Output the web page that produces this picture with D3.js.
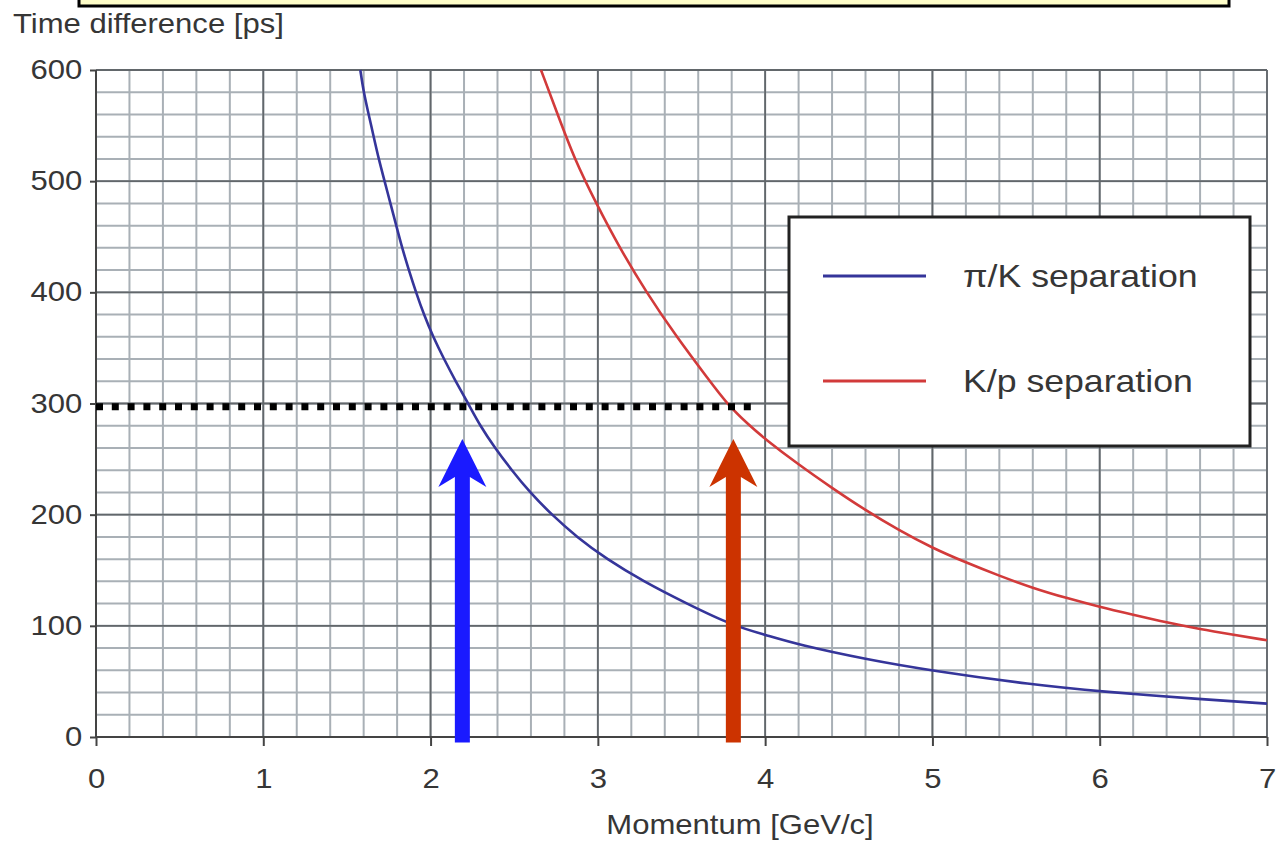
<!DOCTYPE html>
<html>
<head>
<meta charset="utf-8">
<script src="https://cdn.jsdelivr.net/npm/d3@7"></script>
<style>
  body { margin: 0; background: #fff; }
  text { font-family: "Liberation Sans", Arial, Helvetica, sans-serif; fill: #363636; }
</style>
</head>
<body>
<div id="chart"></div>
<script>
// values
var piKMomentum = [1.58, 1.60, 1.63, 1.66, 1.69, 1.725, 1.76, 1.795, 1.83, 1.87, 1.913, 1.96, 2.015, 2.08, 2.15, 2.225,
                   2.296, 2.385, 2.485, 2.594, 2.724, 2.873, 3.053, 3.272, 3.531, 3.809, 4.0, 4.2, 4.6, 5.0, 5.6, 6.0, 6.6, 7.0];
var piKTime     = [600, 580, 560, 540, 520, 500, 480, 460, 440, 420, 400, 380, 360, 340, 320, 300,
                   280, 260, 240, 220, 200, 180, 160, 140, 120, 100, 92, 83, 70, 59.5, 47, 41, 34, 30];
var kpMomentum  = [2.66, 2.76, 2.86, 2.99, 3.13, 3.29, 3.47, 3.67, 3.77, 3.90, 4.0, 4.2, 4.4, 4.6, 4.8, 5.0,
                   5.2, 5.4, 5.6, 5.8, 6.0, 6.2, 6.4, 6.6, 6.8, 7.0];
var kpTime      = [600, 560, 520, 480, 440, 400, 360, 320, 300, 281, 268, 245, 224, 204, 186, 170,
                   157, 145, 134, 125, 117, 110, 103, 97, 92, 87];
var seriesNames = ["\u03c0/K separation", "K/p separation"];
var seriesColors = ["#35359a", "#d23a3a"];

var xTicks = [0, 1, 2, 3, 4, 5, 6, 7];
var yTicks = [0, 100, 200, 300, 400, 500, 600];
var xMinorStep = 0.2, yMinorStep = 20;

var thresholdTime = 297;          // dotted line level
var thresholdEnd = 3.96;          // dotted line right end (GeV/c)
var arrowMomentum = [2.19, 3.81];
var arrowColors = ["#1a1aff", "#cc3300"];
var arrowTip = 268, arrowBarb = 225, arrowFoot = -5;

var W = 1278, H = 844;
var pLeft = 96, pRight = 1267, pTop = 70, pBottom = 737;
var SX = "scale(1.15,1)";

var svg = d3.select("#chart").append("svg").attr("width", W).attr("height", H);

var x = d3.scaleLinear().domain([0, 7]).range([pLeft, pRight]);
var y = d3.scaleLinear().domain([0, 600]).range([pBottom, pTop]);

// yellow strip at top
svg.append("rect").attr("x", 79).attr("y", -6).attr("width", 1150).attr("height", 12)
  .attr("fill", "#fefdc8").attr("stroke", "#000").attr("stroke-width", 3);

// grid
var grid = svg.append("g");
var xMinor = d3.range(0, 7 + 1e-9, xMinorStep);
var yMinor = d3.range(0, 600 + 1e-9, yMinorStep);
grid.selectAll(".vminor").data(xMinor).enter().append("line")
  .attr("x1", function(d){ return x(d); }).attr("x2", function(d){ return x(d); })
  .attr("y1", pTop).attr("y2", pBottom)
  .attr("stroke", "#a9b0b6").attr("stroke-width", 2);
grid.selectAll(".hminor").data(yMinor).enter().append("line")
  .attr("y1", function(d){ return y(d); }).attr("y2", function(d){ return y(d); })
  .attr("x1", pLeft).attr("x2", pRight)
  .attr("stroke", "#a9b0b6").attr("stroke-width", 2);
grid.selectAll(".vmajor").data(xTicks).enter().append("line")
  .attr("x1", function(d){ return x(d); }).attr("x2", function(d){ return x(d); })
  .attr("y1", pTop).attr("y2", pBottom)
  .attr("stroke", "#62676b").attr("stroke-width", 1.8);
grid.selectAll(".hmajor").data(yTicks).enter().append("line")
  .attr("y1", function(d){ return y(d); }).attr("y2", function(d){ return y(d); })
  .attr("x1", pLeft).attr("x2", pRight)
  .attr("stroke", "#62676b").attr("stroke-width", 1.8);

// axes
var xAxis = svg.append("g").attr("transform", "translate(0," + pBottom + ")")
  .call(d3.axisBottom(x).tickValues(xTicks).tickFormat(d3.format("d")).tickSize(9).tickPadding(23));
var yAxis = svg.append("g").attr("transform", "translate(" + pLeft + ",0)")
  .call(d3.axisLeft(y).tickValues(yTicks).tickFormat(d3.format("d")).tickSize(6).tickPadding(6));
[xAxis, yAxis].forEach(function(a){
  a.attr("font-family", null);
  a.select(".domain").attr("stroke", "#444").attr("stroke-width", 2);
  a.selectAll(".tick line").attr("stroke", "#444").attr("stroke-width", 2);
  a.selectAll(".tick text").attr("font-size", 27).attr("fill", "#363636")
    .attr("transform", SX);
});
yAxis.select(".domain").attr("d", "M0," + pTop + "V" + pBottom);
xAxis.select(".domain").attr("d", "M" + pLeft + ",0H" + pRight);

// curves
var line = d3.line().curve(d3.curveBasis)
  .x(function(d){ return x(d[0]); }).y(function(d){ return y(d[1]); });
var series = [d3.zip(piKMomentum, piKTime), d3.zip(kpMomentum, kpTime)];
svg.selectAll(".curve").data(series).enter().append("path")
  .attr("d", line).attr("fill", "none")
  .attr("stroke", function(d, i){ return seriesColors[i]; })
  .attr("stroke-width", 2.6);

// dotted threshold line
svg.append("line")
  .attr("x1", x(0)).attr("x2", x(thresholdEnd))
  .attr("y1", y(thresholdTime)).attr("y2", y(thresholdTime))
  .attr("stroke", "#000").attr("stroke-width", 7).attr("stroke-dasharray", "7,8.8");

// arrows
var headHalf = 24, shaftHalf = 7.5, notch = 10;
svg.selectAll(".arrow").data(arrowMomentum).enter().append("path")
  .attr("d", function(m){
    var cx = x(m), tipY = y(arrowTip), barbY = y(arrowBarb), footY = y(arrowFoot);
    return "M" + cx + "," + tipY +
      "L" + (cx + headHalf) + "," + barbY +
      "L" + (cx + shaftHalf) + "," + (barbY - notch) +
      "L" + (cx + shaftHalf) + "," + footY +
      "L" + (cx - shaftHalf) + "," + footY +
      "L" + (cx - shaftHalf) + "," + (barbY - notch) +
      "L" + (cx - headHalf) + "," + barbY + "Z";
  })
  .attr("fill", function(d, i){ return arrowColors[i]; });

// legend
var lg = svg.append("g");
lg.append("rect").attr("x", 789).attr("y", 217).attr("width", 461).attr("height", 229)
  .attr("fill", "#fff").attr("stroke", "#222").attr("stroke-width", 3);
var legY = [276, 381];
seriesNames.forEach(function(name, i){
  lg.append("line").attr("x1", 823).attr("x2", 926).attr("y1", legY[i]).attr("y2", legY[i])
    .attr("stroke", seriesColors[i]).attr("stroke-width", 3);
  lg.append("text").attr("transform", "translate(963," + (legY[i] + 11) + ") " + SX)
    .attr("font-size", 31).text(name);
});

// axis titles
svg.append("text").attr("transform", "translate(13,33) " + SX)
  .attr("font-size", 27).text("Time difference [ps]");
svg.append("text").attr("transform", "translate(740,834) " + SX)
  .attr("font-size", 27).attr("text-anchor", "middle").text("Momentum [GeV/c]");
</script>
</body>
</html>
